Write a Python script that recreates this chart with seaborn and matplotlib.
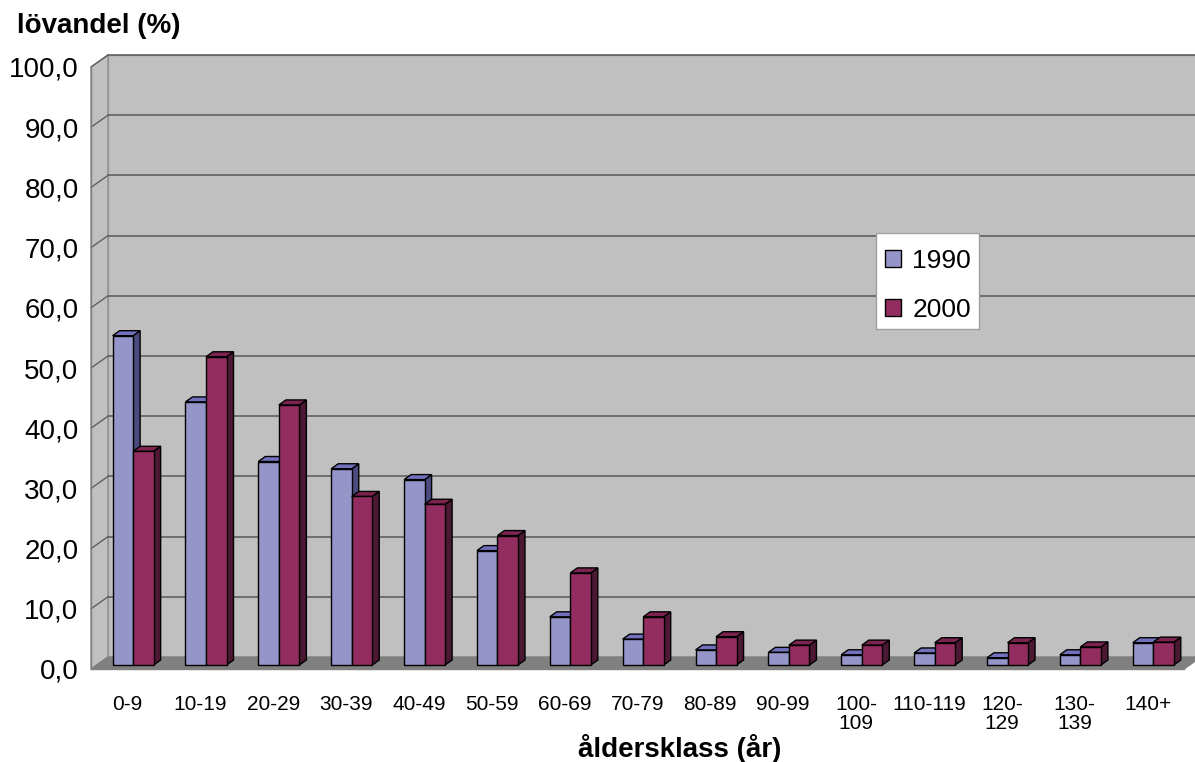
import matplotlib
matplotlib.use('Agg')
import matplotlib.pyplot as plt
import seaborn as sns
import pandas as pd
import numpy as np
from matplotlib.patches import Polygon, Patch, Rectangle
from matplotlib.colors import to_rgb

# data
klasser = ['0-9', '10-19', '20-29', '30-39', '40-49', '50-59', '60-69', '70-79',
           '80-89', '90-99', '100-\n109', '110-119', '120-\n129', '130-\n139', '140+']
andel_1990 = [54.7, 43.7, 33.8, 32.6, 30.8, 19.0, 8.0, 4.3, 2.5, 2.1, 1.7, 2.0, 1.2, 1.7, 3.7]
andel_2000 = [35.5, 51.2, 43.2, 28.0, 26.7, 21.5, 15.3, 8.0, 4.7, 3.3, 3.3, 3.7, 3.7, 3.0, 3.8]
ar = ['1990', '2000']
yticks = [0, 10, 20, 30, 40, 50, 60, 70, 80, 90, 100]
ytick_labels = ['0,0', '10,0', '20,0', '30,0', '40,0', '50,0', '60,0', '70,0', '80,0', '90,0', '100,0']

front = {'1990': '#9595c9', '2000': '#932c5f'}
top_c = {'1990': '#7171bd', '2000': '#7c2350'}
side_c = {'1990': '#4b4b80', '2000': '#4d1833'}

df = pd.DataFrame({
    'klass': klasser * 2,
    'år': [ar[0]] * len(klasser) + [ar[1]] * len(klasser),
    'andel': andel_1990 + andel_2000,
})

sns.set_style('white')
plt.rcParams['font.family'] = ['Liberation Sans', 'DejaVu Sans']
plt.rcParams['text.color'] = 'black'

W, H = 1195, 762
fig = plt.figure(figsize=(W / 100, H / 100), dpi=100)
ax = fig.add_axes([91 / W, 93 / H, 1093 / W, 602 / H])
ax.set_facecolor('none')

sns.barplot(data=df, x='klass', y='andel', hue='år', palette=front, width=0.563,
            saturation=1, edgecolor='black', linewidth=1, legend=False, ax=ax)
ax.set_xlim(-0.5, 14.5)
ax.set_ylim(0, 100)

# keep the seaborn bars before anything else is added
bars = [p for p in ax.patches if isinstance(p, Rectangle) and p.get_height() > 0]
bars = sorted(bars, key=lambda p: p.get_x())


def px(dx, dy):
    # pixel offset -> data units
    x0, y0 = ax.transData.transform((0, 0))
    return ax.transData.inverted().transform((x0 + dx, y0 + dy))


wdx, wdy = px(17, 12)   # depth of the walls
bdx, bdy = px(5.7, 4)   # where the bars stand on the floor
ddx, ddy = px(7, 5)     # depth of a bar

x0, x1 = -0.5, 14.5
wall = '#c0c0c0'
# back wall
ax.add_patch(Polygon([(x0 + wdx, wdy), (x1 + wdx, wdy), (x1 + wdx, 100 + wdy), (x0 + wdx, 100 + wdy)],
                     closed=True, facecolor=wall, edgecolor='#a0a0a0', lw=1, zorder=0.5, clip_on=False))
# left wall
ax.add_patch(Polygon([(x0, 0), (x0, 100), (x0 + wdx, 100 + wdy), (x0 + wdx, wdy)],
                     closed=True, facecolor=wall, edgecolor='#909090', lw=1, zorder=0.6, clip_on=False))
# gridlines on the walls
for v in yticks[1:]:
    ax.plot([x0 + wdx, x1 + wdx], [v + wdy, v + wdy], color='#606060', lw=1.2, zorder=0.7, clip_on=False)
    ax.plot([x0, x0 + wdx], [v, v + wdy], color='#606060', lw=1, zorder=0.7, clip_on=False)
# floor
ax.add_patch(Polygon([(x0, 0), (x1, 0), (x1 + wdx, wdy), (x0 + wdx, wdy)],
                     closed=True, facecolor='#808080', edgecolor='#808080', lw=1, zorder=0.8, clip_on=False))

# 3d faces for each bar
for i, p in enumerate(bars):
    fc = p.get_facecolor()
    yr = '1990' if np.allclose(fc[:3], to_rgb(front['1990']), atol=0.02) else '2000'
    x, w, h = p.get_x() + bdx, p.get_width(), p.get_height()
    p.set_x(x)
    p.set_y(bdy)
    z = 2 + i * 0.1
    p.set_zorder(z + 0.05)
    ax.add_patch(Polygon([(x + w, bdy), (x + w, bdy + h), (x + w + ddx, bdy + h + ddy), (x + w + ddx, bdy + ddy)],
                         closed=True, facecolor=side_c[yr], edgecolor='black', lw=1, zorder=z, clip_on=False))
    ax.add_patch(Polygon([(x, bdy + h), (x + w, bdy + h), (x + w + ddx, bdy + h + ddy), (x + ddx, bdy + h + ddy)],
                         closed=True, facecolor=top_c[yr], edgecolor='black', lw=1, zorder=z, clip_on=False))

# axes
for s in ['top', 'right']:
    ax.spines[s].set_visible(False)
for s in ['left', 'bottom']:
    ax.spines[s].set_color('#808080')
    ax.spines[s].set_linewidth(1)

ax.set_xticks(range(len(klasser)))
ax.set_xticklabels(klasser, fontsize=15, linespacing=0.95)
ax.set_xticks(np.arange(-0.5, len(klasser), 1), minor=True)
ax.tick_params(axis='x', which='major', length=0, pad=19, labelcolor='black')
ax.tick_params(axis='x', which='minor', length=8, width=1, color='#808080', direction='out')
ax.set_yticks(yticks, ytick_labels)
ax.tick_params(axis='y', length=7, width=1, color='#808080', labelsize=20, pad=2,
               direction='out', labelcolor='black')
ax.set_xlabel('')
ax.set_ylabel('')

# legend box, then the entries on top of it
ax.add_patch(Rectangle((876 / W, 1 - 329 / H), 103 / W, 96 / H, transform=fig.transFigure,
                       facecolor='white', edgecolor='#a0a0a0', lw=1, zorder=9, clip_on=False))
handles = [Patch(facecolor=front[a], edgecolor='black', lw=1, label=a) for a in ar]
leg = ax.legend(handles=handles, loc='upper left', bbox_to_anchor=(885 / W, 1 - 248.5 / H),
                bbox_transform=fig.transFigure, frameon=False, fontsize=19,
                handlelength=0.62, handleheight=0.6, handletextpad=0.42,
                labelspacing=0.95, borderpad=0, borderaxespad=0)
leg.set_zorder(10)

fig.text(17 / W, 1 - 33 / H, 'lövandel (%)', fontsize=20, fontweight='bold', ha='left', va='baseline')
fig.text(680 / W, 1 - 757 / H, 'åldersklass (år)', fontsize=20, fontweight='bold', ha='center', va='baseline')

fig.savefig('out.png', dpi=100, facecolor='white')
